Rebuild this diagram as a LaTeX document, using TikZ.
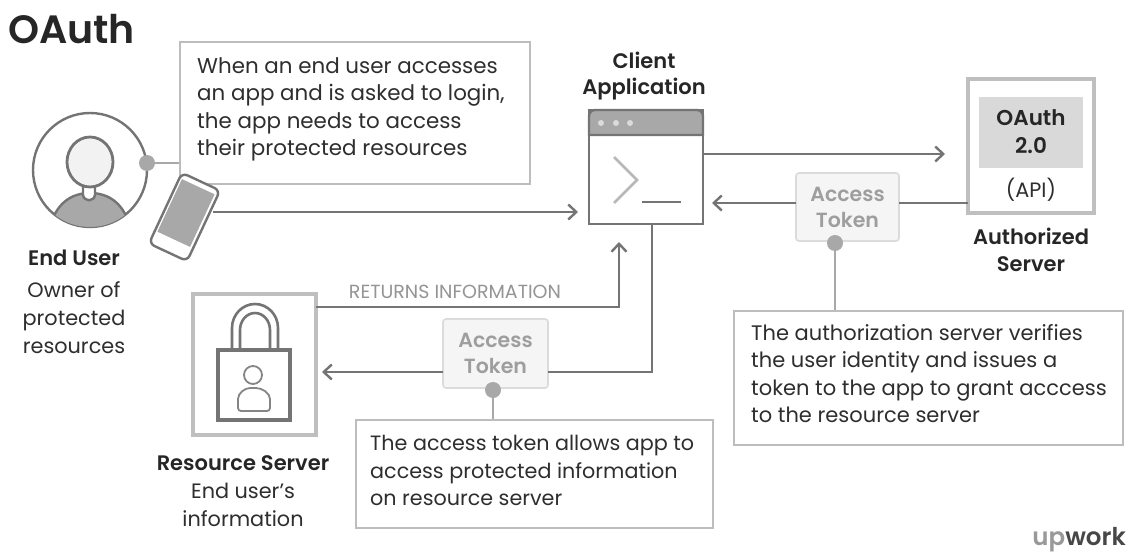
\documentclass[tikz,border=0pt]{standalone}
\usepackage{fontspec}
\setmainfont[BoldFont={Poppins SemiBold}]{Poppins}
\usetikzlibrary{arrows.meta,calc}
\definecolor{ink}{HTML}{2E2E2E}
\definecolor{line}{HTML}{747474}
\definecolor{pale}{HTML}{BDBDBD}
\definecolor{mid}{HTML}{A8A8A8}
\tikzset{
  txt/.style={text=ink,inner sep=0pt,align=center,font=\fontsize{20.8}{28}\selectfont},
  head/.style={text=black!85,inner sep=0pt,align=center,font=\fontsize{21}{26.5}\selectfont\bfseries},
  note/.style={draw=pale,line width=1.6pt,fill=white,minimum width=#1,anchor=north west,inner sep=0pt},
  notetxt/.style={anchor=north west,inner sep=0pt,text=ink,align=left,font=\fontsize{#1}{27.5}\selectfont},
  flow/.style={draw=line,line width=2.6pt},
  arrow/.style={flow,-{Straight Barb[length=8pt,width=15pt,line width=2.4pt]}},
  lead/.style={draw=mid,line width=1.6pt},
  dot/.style={circle,fill=mid,draw=none,minimum size=16pt,inner sep=0pt},
  token/.style={draw=black!14,line width=1.6pt,fill=black!4,rounded corners=3pt,text=black!38,align=center,inner sep=0pt,font=\fontsize{20.5}{26}\selectfont\bfseries},
  frame/.style={draw=black!25,line width=3.4pt,fill=white,minimum width=#1,inner sep=0pt},
}
\begin{document}
\begin{tikzpicture}[x=1pt,y=-1pt]
\useasboundingbox (0,0) rectangle (1132,557);
\fill[white] (0,0) rectangle (1132,557);
\node[inner sep=0pt,anchor=west,text=black!85,font=\fontsize{39.5}{42}\selectfont\bfseries] (title) at (8,29) {OAuth};

% End user
\node[circle,draw=line,line width=2.4pt,fill=white,minimum size=114pt,inner sep=0pt] (user) at (90,170) {};
\begin{scope}
\clip (90,170) circle (57);
\fill[mid,draw=line,line width=2.4pt] (50,228) .. controls (55,205) and (70,193) .. (90,193) .. controls (110,193) and (125,205) .. (130,228) -- cycle;
\end{scope}
\draw[line,line width=2.4pt,fill=white] (83,184) -- (83,195) .. controls (84,202) and (94,202) .. (95,195) -- (95,184) -- cycle;
\draw[line,line width=2.8pt,fill=black!5] (90,162) ellipse (23 and 25);
\node[note=350pt,minimum height=142pt] (n1) at (179,41) {};
\node[notetxt=21.4] (n1t) at (197,57) {When an end user accesses\\an app and is asked to login,\\the app needs to access\\their protected resources};
\node[dot] (d1) at (147,163) {};
\draw[lead] (d1) -- (n1.west |- d1);
% phone
\node[rounded corners=6pt,draw=line,line width=2.4pt,fill=white,minimum width=42pt,minimum height=78pt,rotate=-25,inner sep=0pt] (phone) at (184.5,217) {};
\node[fill=mid,minimum width=36pt,minimum height=58pt,rotate=-25,inner sep=0pt] (screen) at (186,213) {};
\node[head] (eu) at (74,258) {End User};
\node[txt] (eud) at (74,318) {Owner of\\protected\\resources};

% Client
\node[head] (clab) at (644,76) {Client\\Application};
\node[draw=line,line width=2.8pt,fill=white,minimum width=114pt,minimum height=114pt,inner sep=0pt] (client) at (646,167) {};
\draw[line,line width=2.4pt,fill=mid] (589,135) -- (589,116) arc[start angle=180,end angle=270,radius=6] -- (697,110) arc[start angle=270,end angle=360,radius=6] -- (703,135) -- cycle;
\foreach \x in {601,616,630} \fill[black!14] (\x,123) circle (3);
\draw[black!28,line width=2.6pt] (614,157) -- (637,180) -- (614,203);
\draw[line,line width=2.4pt] (642,202) -- (681,202);

% Auth server
\node[frame=126pt,minimum height=134pt] (auth) at (1031,146) {};
\node[fill=black!15,minimum width=104pt,minimum height=71pt,inner sep=0pt,text=black!85,align=center,font=\fontsize{21.5}{28}\selectfont\bfseries] (oauth) at (1031,132) {OAuth\\2.0};
\node[txt] (api) at (1031,190) {(API)};
\node[head] (alab) at (1031,250) {Authorized\\Server};

% Resource server
\node[frame=123pt,minimum height=141pt] (res) at (254.5,364.5) {};
\draw[line,line width=2.6pt] (232,350) -- (232,328) arc[start angle=180,end angle=360,x radius=23,y radius=24] -- (278,350);
\draw[line,line width=2.6pt] (240,350) -- (240,330) arc[start angle=180,end angle=360,x radius=15,y radius=17] -- (270,350);
\draw[line,line width=3.2pt,fill=white] (218,350) rectangle (290,420);
\draw[black!48,line width=1.8pt] (253,375) circle (9);
\draw[black!48,line width=1.8pt,rounded corners=3pt] (238,411) -- (238,402) .. controls (238,393) and (245,388) .. (253,388) .. controls (262,388) and (270,393) .. (270,402) -- (270,411) -- cycle;
\node[head] (rlab) at (243,463) {Resource Server};
\node[txt] (rdesc) at (243,505) {End user's\\information};

% Arrows
\coordinate (pa) at (213,212);
\coordinate (ca) at (578,212);
\draw[arrow] (pa) -- (ca);
\coordinate (ca2) at (703,154);
\coordinate (aa) at (945,154);
\draw[arrow] (ca2) -- (aa);

% token 1
\node[token,minimum width=103pt,minimum height=68pt] (t1) at (847.5,207) {Access\\Token};
\coordinate (as) at (968,203);
\coordinate (t1r) at (899,203);
\coordinate (t1l) at (796,203);
\coordinate (cr) at (712,203);
\draw[flow] (as) -- (t1r);
\draw[arrow] (t1l) -- (cr);
\node[dot] (d2) at (835,243) {};
\node[note=389pt,minimum height=134pt] (n2) at (733,310) {};
\node[notetxt=21] (n2t) at (751,324) {The authorization server verifies\\the user identity and issues a\\token to the app to grant acccess\\to the resource server};
\draw[lead] (d2) -- (d2 |- n2.north);

% token 2
\coordinate (cb) at (652,224);
\coordinate (cc) at (652,372);
\node[token,minimum width=105pt,minimum height=69pt] (t2) at (495.5,353.5) {Access\\Token};
\coordinate (t2r) at (548,372);
\coordinate (t2l) at (443,372);
\coordinate (rr) at (322,372);
\draw[flow] (cb) -- (cc) -- (t2r);
\draw[arrow] (t2l) -- (rr);
\node[dot] (d3) at (493,390) {};
\node[note=357pt,minimum height=108pt] (n3) at (355,419) {};
\node[notetxt=20.7] (n3t) at (370,435) {The access token allows app to\\access protected information\\on resource server};
\draw[lead] (d3) -- (d3 |- n3.north);

% return
\coordinate (rs) at (316,307);
\coordinate (bend) at (619,307);
\coordinate (cu) at (619,242);
\draw[arrow] (rs) -- (bend) -- (cu);
\node[inner sep=0pt,text=black!42,font=\fontsize{19}{20}\selectfont] (ret) at (455,292) {RETURNS INFORMATION};

% logo
\node[inner sep=0pt,anchor=east,font=\fontsize{24.5}{26}\selectfont\bfseries] (logo) at (1126,540) {\textcolor{black!40}{up}\textcolor{black!72}{work}};
\end{tikzpicture}
\end{document}
